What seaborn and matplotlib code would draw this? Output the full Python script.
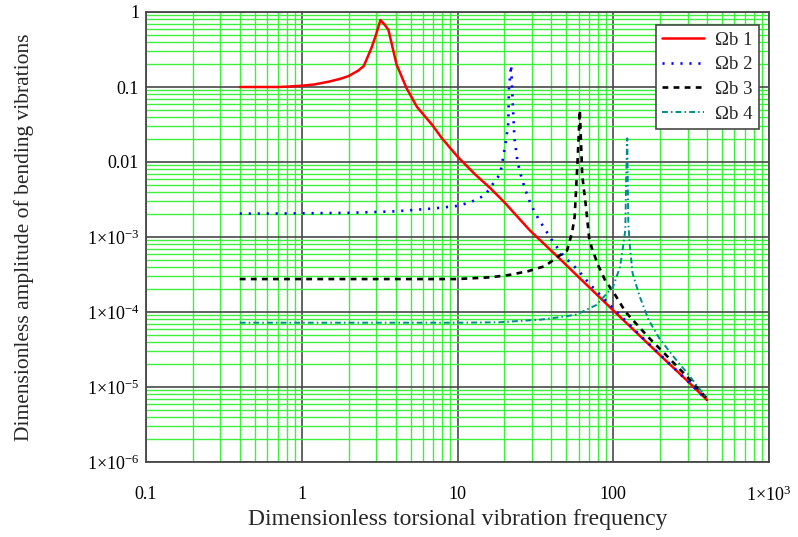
import numpy as np
import pandas as pd
import matplotlib
matplotlib.use("Agg")
import matplotlib.pyplot as plt
import matplotlib.ticker as mticker
import seaborn as sns

# ---------------- data ----------------
# Omega_b 1 (red, solid)
x1 = [0.4, 0.5, 0.6, 0.7, 0.8, 1.0, 1.2, 1.5, 1.8, 2.0, 2.3, 2.5, 2.8, 3.0, 3.2,
      3.4, 3.6, 4.06, 4.7, 5.5, 6.9, 7.9, 10, 13, 16.2, 20, 29.2, 45, 61.2, 100,
      150, 200, 300, 400]
y1 = [0.1, 0.1, 0.1, 0.1, 0.101, 0.104, 0.108, 0.118, 0.13, 0.14, 0.165, 0.19,
      0.33, 0.5, 0.78, 0.68, 0.58, 0.2, 0.097, 0.054, 0.031, 0.021, 0.0118,
      6.8e-3, 4.5e-3, 2.9e-3, 1.22e-3, 5.2e-4, 2.8e-4, 1.05e-4, 4.7e-5, 2.65e-5,
      1.2e-5, 6.7e-6]

# Omega_b 2 (blue, dotted)
x2 = [0.4, 0.6, 1, 2, 4, 7, 10, 12.1, 15, 17.3, 18.8, 19.5, 20.3, 21.2, 21.4,
      22.1, 22.6, 23.2, 24.3, 25.5, 27.2, 29.6, 33.1, 37.4, 40.3, 47.9, 59.6, 70,
      100, 150, 200, 300, 400]
y2 = [2.05e-3, 2.05e-3, 2.07e-3, 2.1e-3, 2.2e-3, 2.4e-3, 2.6e-3, 2.9e-3, 3.6e-3,
      5.5e-3, 6.9e-3, 0.0106, 0.017, 0.033, 0.096, 0.196, 0.064, 0.021, 0.01,
      6.7e-3, 4.3e-3, 2.7e-3, 1.74e-3, 1.17e-3, 9.1e-4, 5.6e-4, 3.6e-4, 2.4e-4,
      1.12e-4, 4.8e-5, 2.7e-5, 1.2e-5, 6.7e-6]

# Omega_b 3 (black, dashed)
x3 = [0.4, 1, 3, 10, 16.2, 21.1, 28.4, 36.5, 43.7, 50.5, 54.5, 56.5, 59, 61,
      63.2, 67, 70, 73, 80, 89, 101, 120, 170, 217, 300, 400]
y3 = [2.75e-4, 2.75e-4, 2.75e-4, 2.75e-4, 2.9e-4, 3.1e-4, 3.5e-4, 4.1e-4, 5.4e-4,
      6.6e-4, 1.17e-3, 1.85e-3, 0.0103, 0.049, 6.7e-3, 2.4e-3, 9.7e-4, 7e-4,
      4.2e-4, 2.6e-4, 1.8e-4, 1.0e-4, 4.5e-5, 2.7e-5, 1.35e-5, 7e-6]

# Omega_b 4 (teal, dash-dot)
x4 = [0.4, 1, 3, 10, 18.7, 22.8, 33.9, 41, 50.5, 58.6, 67, 78, 100, 110.6, 116.5,
      119.5, 121, 123, 124, 125, 128, 133, 148, 169, 197, 238, 305, 400]
y4 = [7.2e-5, 7.2e-5, 7.2e-5, 7.2e-5, 7.3e-5, 7.5e-5, 7.9e-5, 8.3e-5, 8.8e-5,
      9.3e-5, 1.07e-4, 1.24e-4, 2.2e-4, 4e-4, 8.3e-4, 1.24e-3, 5.8e-3, 0.0207,
      5e-3, 1.5e-3, 7.4e-4, 3.3e-4, 1.6e-4, 7.8e-5, 4.5e-5, 2.7e-5, 1.45e-5, 7e-6]

series_names = ["\u03a9b 1", "\u03a9b 2", "\u03a9b 3", "\u03a9b 4"]
series_x = [x1, x2, x3, x4]
series_y = [y1, y2, y3, y4]

x_ticks = [0.1, 1, 10, 100, 1000]
x_ticklabels = ["0.1", "1", "10", "100", "1\u00d710$^{3}$"]
y_ticks = [1e-6, 1e-5, 1e-4, 1e-3, 0.01, 0.1, 1]
y_ticklabels = ["1\u00d710$^{-6}$", "1\u00d710$^{-5}$", "1\u00d710$^{-4}$",
                "1\u00d710$^{-3}$", "0.01", "0.1", "1"]

# ---------------- styling ----------------
sns.set_style("white")
plt.rcParams["font.family"] = ["Liberation Serif", "DejaVu Serif"]
plt.rcParams["mathtext.fontset"] = "custom"
plt.rcParams["mathtext.rm"] = "Liberation Serif"
plt.rcParams["mathtext.it"] = "Liberation Serif:italic"
plt.rcParams["mathtext.bf"] = "Liberation Serif:bold"

colors = ["#ff0000", "#0000ff", "#000000", "#008b8b"]
styles = ["-", (0, (0.8, 2.6)), (0, (2.2, 2.0)), (0, (3.0, 1.6, 0.8, 1.6))]
widths = [1.8, 1.9, 1.9, 1.4]

fig = plt.figure(figsize=(7.98, 5.37), dpi=100)
ax = fig.add_axes([146 / 798, 1 - 462 / 537, 623 / 798, 450 / 537])

for name, xs, ys, c, ls, lw in zip(series_names, series_x, series_y, colors, styles, widths):
    df = pd.DataFrame({"x": xs, "y": ys})
    sns.lineplot(data=df, x="x", y="y", ax=ax, color=c, linestyle=ls,
                 linewidth=lw, label=name, sort=False, estimator=None, zorder=3)

ax.set_xscale("log")
ax.set_yscale("log")
ax.set_xlim(0.1, 1000)
ax.set_ylim(1e-6, 1)

ax.xaxis.set_major_locator(mticker.FixedLocator(x_ticks))
ax.xaxis.set_major_formatter(mticker.FixedFormatter(x_ticklabels))
ax.yaxis.set_major_locator(mticker.FixedLocator(y_ticks))
ax.yaxis.set_major_formatter(mticker.FixedFormatter(y_ticklabels))
ax.xaxis.set_minor_locator(mticker.LogLocator(base=10, subs=np.arange(2, 10), numticks=20))
ax.yaxis.set_minor_locator(mticker.LogLocator(base=10, subs=np.arange(2, 10), numticks=20))
ax.xaxis.set_minor_formatter(mticker.NullFormatter())
ax.yaxis.set_minor_formatter(mticker.NullFormatter())

ax.grid(which="minor", color="#3cf03c", linewidth=1.0, zorder=0)
ax.grid(which="major", color="#484848", linewidth=1.2, zorder=1)
ax.set_axisbelow(True)

ax.tick_params(axis="both", which="both", length=0, labelsize=13, colors="black")
ax.tick_params(axis="x", pad=17)
ax.tick_params(axis="y", pad=5)

for sp in ax.spines.values():
    sp.set_color("#484848")
    sp.set_linewidth(1.3)
    sp.set_visible(True)

ax.set_xlabel("Dimensionless torsional vibration frequency", fontsize=17)
ax.set_ylabel("Dimensionless amplitude of bending vibrations", fontsize=15.5)
ax.xaxis.set_label_coords(0.5, -0.104)
ax.yaxis.set_label_coords(-0.18, 0.5)

leg = ax.legend(loc="upper right", bbox_to_anchor=(0.984, 0.971), borderaxespad=0,
                fontsize=13.5, frameon=True, fancybox=False, handlelength=2.2,
                labelspacing=0.4, borderpad=0.35, handletextpad=0.6)
leg.get_frame().set_edgecolor("#484848")
leg.get_frame().set_linewidth(1.2)
leg.get_frame().set_facecolor("white")
leg.get_frame().set_alpha(1)

fig.savefig("out.png", dpi=100)
